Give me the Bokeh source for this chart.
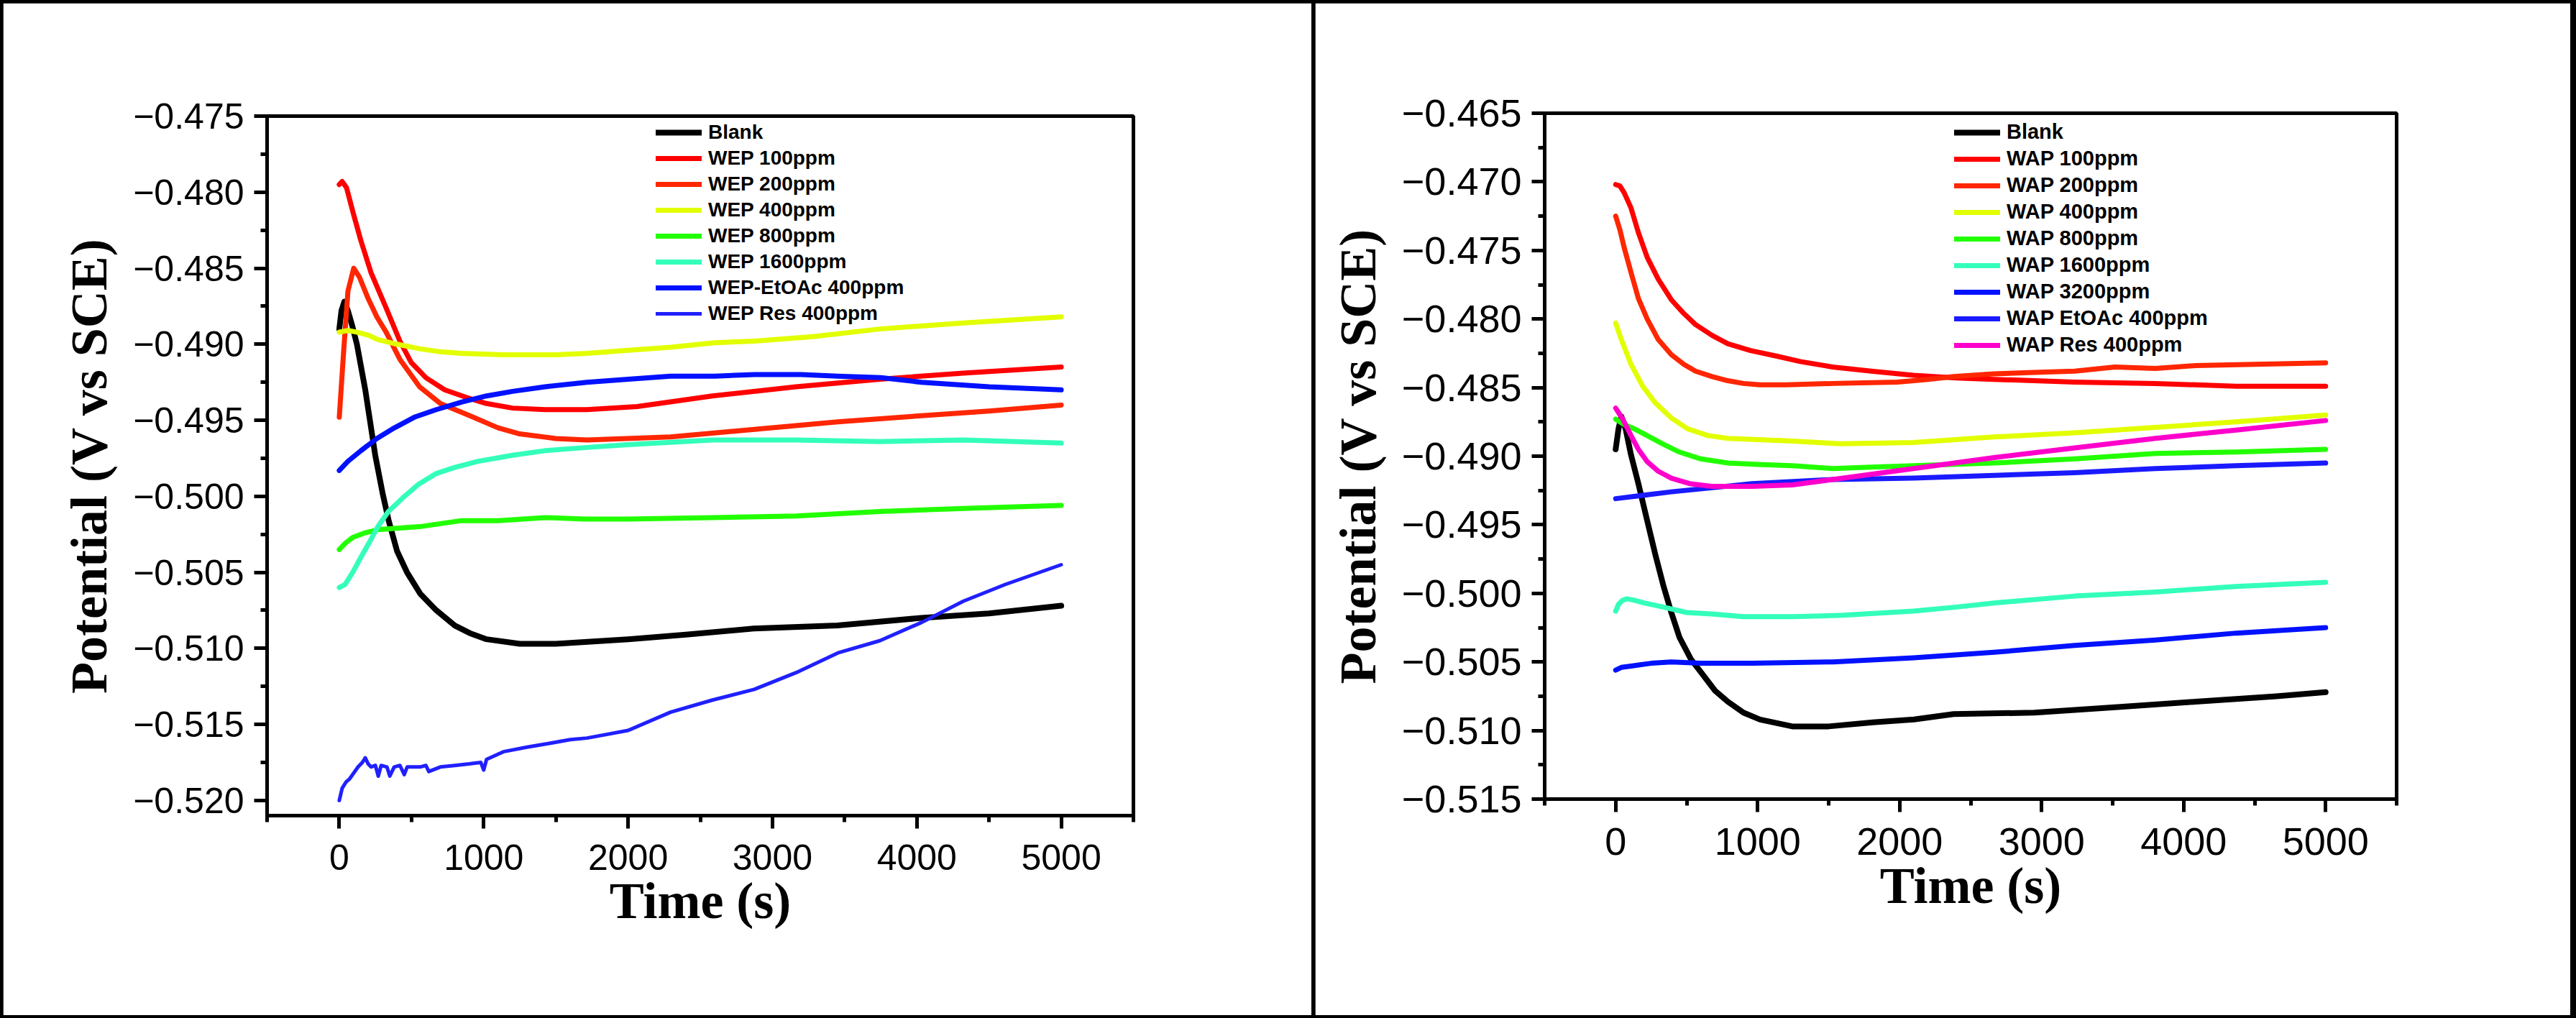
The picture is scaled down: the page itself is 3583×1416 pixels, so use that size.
from bokeh.plotting import figure
from bokeh.models import FixedTicker, CustomJSTickFormatter, Legend, LegendItem, Range1d
from bokeh.embed import file_html
from bokeh.resources import INLINE

# ---------------- tick labels ----------------
time_ticks = [0, 1000, 2000, 3000, 4000, 5000]
time_minor = [-500, 500, 1500, 2500, 3500, 4500, 5500]
wep_y_ticks = [-0.475, -0.480, -0.485, -0.490, -0.495, -0.500, -0.505, -0.510, -0.515, -0.520]
wap_y_ticks = [-0.465, -0.470, -0.475, -0.480, -0.485, -0.490, -0.495, -0.500, -0.505, -0.510, -0.515]

# ---------------- left panel (WEP) data ----------------
wep_blank_t = [0, 15, 35, 60, 90, 122, 180, 249, 300, 342, 400, 469, 560, 672, 800, 904, 1020, 1250, 1500, 2000, 2400, 2870, 3450, 4030, 4500, 5000]
wep_blank_v = [-0.4890, -0.4878, -0.4872, -0.4878, -0.4888, -0.4900, -0.4930, -0.4973, -0.4998, -0.5016, -0.5036, -0.5050, -0.5064, -0.5075, -0.5085, -0.5090, -0.5094, -0.5097, -0.5097, -0.5094, -0.5091, -0.5087, -0.5085, -0.5080, -0.5077, -0.5072]

wep_100_t = [0, 20, 50, 100, 150, 220, 324, 420, 498, 600, 730, 880, 1020, 1200, 1425, 1715, 2063, 2584, 3163, 3743, 4322, 5000]
wep_100_v = [-0.4795, -0.4793, -0.4797, -0.4815, -0.4832, -0.4853, -0.4876, -0.4898, -0.4912, -0.4922, -0.4930, -0.4935, -0.4939, -0.4942, -0.4943, -0.4943, -0.4941, -0.4934, -0.4928, -0.4923, -0.4919, -0.4915]

wep_200_t = [0, 30, 60, 100, 140, 200, 260, 324, 420, 556, 700, 904, 1100, 1250, 1500, 1715, 2294, 2874, 3453, 4032, 4500, 5000]
wep_200_v = [-0.4948, -0.4905, -0.4865, -0.4850, -0.4856, -0.4870, -0.4882, -0.4892, -0.4910, -0.4928, -0.4939, -0.4947, -0.4955, -0.4959, -0.4962, -0.4963, -0.4961, -0.4956, -0.4951, -0.4947, -0.4944, -0.4940]

wep_400_t = [0, 60, 120, 200, 267, 400, 556, 700, 846, 1136, 1500, 1715, 2000, 2294, 2600, 2874, 3280, 3743, 4322, 5000]
wep_400_v = [-0.4892, -0.4891, -0.4892, -0.4894, -0.4897, -0.4900, -0.4903, -0.4905, -0.4906, -0.4907, -0.4907, -0.4906, -0.4904, -0.4902, -0.4899, -0.4898, -0.4895, -0.4890, -0.4886, -0.4882]

wep_800_t = [0, 40, 93, 180, 267, 400, 556, 846, 1100, 1425, 1700, 2000, 2584, 3163, 3743, 4322, 5000]
wep_800_v = [-0.5035, -0.5031, -0.5027, -0.5024, -0.5022, -0.5021, -0.5020, -0.5016, -0.5016, -0.5014, -0.5015, -0.5015, -0.5014, -0.5013, -0.5010, -0.5008, -0.5006]

wep_1600_t = [0, 40, 93, 150, 210, 267, 340, 440, 550, 672, 800, 962, 1200, 1425, 1700, 2000, 2584, 3163, 3743, 4322, 5000]
wep_1600_v = [-0.5060, -0.5058, -0.5050, -0.5040, -0.5030, -0.5020, -0.5010, -0.5001, -0.4992, -0.4985, -0.4981, -0.4977, -0.4973, -0.4970, -0.4968, -0.4966, -0.4963, -0.4963, -0.4964, -0.4963, -0.4965]

wep_etoac_t = [0, 60, 150, 260, 382, 520, 672, 850, 1020, 1200, 1425, 1715, 2000, 2294, 2600, 2874, 3200, 3453, 3750, 4032, 4500, 5000]
wep_etoac_v = [-0.4983, -0.4977, -0.4970, -0.4962, -0.4955, -0.4948, -0.4943, -0.4938, -0.4934, -0.4931, -0.4928, -0.4925, -0.4923, -0.4921, -0.4921, -0.4920, -0.4920, -0.4921, -0.4922, -0.4925, -0.4928, -0.4930]

wep_res_t = [0, 20, 46, 70, 100, 130, 160, 180, 200, 220, 250, 270, 290, 330, 350, 380, 420, 450, 470, 520, 560, 600, 620, 700, 800, 900, 980, 1000, 1020, 1136, 1300, 1425, 1600, 1715, 2000, 2294, 2584, 2874, 3163, 3453, 3743, 4032, 4322, 4612, 5000]
wep_res_v = [-0.5200, -0.5192, -0.5188, -0.5186, -0.5182, -0.5178, -0.5175, -0.5172, -0.5176, -0.5178, -0.5177, -0.5184, -0.5177, -0.5178, -0.5184, -0.5178, -0.5177, -0.5183, -0.5178, -0.5178, -0.5178, -0.5177, -0.5181, -0.5178, -0.5177, -0.5176, -0.5175, -0.5180, -0.5173, -0.5168, -0.5165, -0.5163, -0.5160, -0.5159, -0.5154, -0.5142, -0.5134, -0.5127, -0.5116, -0.5103, -0.5095, -0.5083, -0.5069, -0.5058, -0.5045]

# ---------------- right panel (WAP) data ----------------
wap_blank_t = [0, 20, 40, 70, 108, 160, 222, 280, 335, 392, 449, 530, 619, 700, 790, 900, 1017, 1244, 1500, 1812, 2100, 2380, 2949, 3517, 4085, 4653, 5000]
wap_blank_v = [-0.4895, -0.4880, -0.4871, -0.4880, -0.4899, -0.4920, -0.4947, -0.4972, -0.4994, -0.5014, -0.5032, -0.5048, -0.5060, -0.5071, -0.5079, -0.5087, -0.5092, -0.5097, -0.5097, -0.5094, -0.5092, -0.5088, -0.5087, -0.5083, -0.5079, -0.5075, -0.5072]

wap_100_t = [0, 30, 60, 108, 160, 222, 300, 392, 480, 562, 680, 790, 950, 1131, 1300, 1528, 1800, 2097, 2400, 2665, 3233, 3801, 4369, 5000]
wap_100_v = [-0.4702, -0.4703, -0.4708, -0.4719, -0.4737, -0.4755, -0.4771, -0.4786, -0.4796, -0.4804, -0.4812, -0.4818, -0.4823, -0.4827, -0.4831, -0.4835, -0.4838, -0.4841, -0.4843, -0.4844, -0.4846, -0.4847, -0.4849, -0.4849]

wap_200_t = [0, 30, 60, 108, 160, 222, 300, 392, 480, 562, 680, 790, 900, 1017, 1200, 1528, 1983, 2200, 2380, 2665, 2949, 3233, 3517, 3801, 4085, 4500, 5000]
wap_200_v = [-0.4725, -0.4735, -0.4748, -0.4766, -0.4785, -0.4800, -0.4815, -0.4826, -0.4833, -0.4838, -0.4842, -0.4845, -0.4847, -0.4848, -0.4848, -0.4847, -0.4846, -0.4844, -0.4842, -0.4840, -0.4839, -0.4838, -0.4835, -0.4836, -0.4834, -0.4833, -0.4832]

wap_400_t = [0, 40, 108, 190, 278, 390, 506, 650, 790, 1000, 1244, 1585, 2097, 2665, 3233, 3801, 4369, 5000]
wap_400_v = [-0.4803, -0.4815, -0.4833, -0.4849, -0.4861, -0.4872, -0.4880, -0.4885, -0.4887, -0.4888, -0.4889, -0.4891, -0.4890, -0.4886, -0.4883, -0.4879, -0.4875, -0.4870]

wap_800_t = [0, 60, 130, 222, 330, 449, 600, 790, 1000, 1244, 1528, 1800, 2097, 2665, 3233, 3801, 4369, 5000]
wap_800_v = [-0.4873, -0.4877, -0.4880, -0.4885, -0.4891, -0.4897, -0.4902, -0.4905, -0.4906, -0.4907, -0.4909, -0.4908, -0.4907, -0.4905, -0.4902, -0.4898, -0.4897, -0.4895]

wap_1600_t = [0, 20, 50, 80, 130, 200, 335, 500, 676, 900, 1244, 1600, 2097, 2400, 2665, 3233, 3801, 4369, 5000]
wap_1600_v = [-0.5013, -0.5008, -0.5005, -0.5004, -0.5005, -0.5007, -0.5010, -0.5014, -0.5015, -0.5017, -0.5017, -0.5016, -0.5013, -0.5010, -0.5007, -0.5002, -0.4999, -0.4995, -0.4992]

wap_3200_t = [0, 40, 108, 250, 392, 600, 960, 1528, 2097, 2665, 3233, 3801, 4369, 5000]
wap_3200_v = [-0.5056, -0.5054, -0.5053, -0.5051, -0.5050, -0.5051, -0.5051, -0.5050, -0.5047, -0.5043, -0.5038, -0.5034, -0.5029, -0.5025]

wap_etoac_t = [0, 392, 960, 1528, 2097, 2665, 3233, 3801, 4369, 5000]
wap_etoac_v = [-0.4931, -0.4926, -0.4920, -0.4917, -0.4916, -0.4914, -0.4912, -0.4909, -0.4907, -0.4905]

wap_res_t = [0, 50, 108, 160, 222, 300, 392, 520, 676, 800, 960, 1244, 1528, 2097, 2665, 3233, 3801, 4369, 5000]
wap_res_v = [-0.4865, -0.4873, -0.4885, -0.4895, -0.4904, -0.4911, -0.4916, -0.4920, -0.4922, -0.4922, -0.4922, -0.4921, -0.4917, -0.4909, -0.4901, -0.4894, -0.4887, -0.4881, -0.4874]

wep_labels = ["Blank", "WEP 100ppm", "WEP 200ppm", "WEP 400ppm", "WEP 800ppm", "WEP 1600ppm", "WEP-EtOAc 400ppm", "WEP Res 400ppm"]
wap_labels = ["Blank", "WAP 100ppm", "WAP 200ppm", "WAP 400ppm", "WAP 800ppm", "WAP 1600ppm", "WAP 3200ppm", "WAP EtOAc 400ppm", "WAP Res 400ppm"]

wep_series = [
    (wep_blank_t, wep_blank_v, "#000000", 8),
    (wep_100_t, wep_100_v, "#FF0000", 7),
    (wep_200_t, wep_200_v, "#FF2600", 7),
    (wep_400_t, wep_400_v, "#E2FF00", 7),
    (wep_800_t, wep_800_v, "#22FF00", 7),
    (wep_1600_t, wep_1600_v, "#33FFBB", 7),
    (wep_etoac_t, wep_etoac_v, "#0011FF", 7),
    (wep_res_t, wep_res_v, "#2020FF", 5),
]
wap_series = [
    (wap_blank_t, wap_blank_v, "#000000", 8),
    (wap_100_t, wap_100_v, "#FF0000", 7),
    (wap_200_t, wap_200_v, "#FF2600", 7),
    (wap_400_t, wap_400_v, "#E2FF00", 7),
    (wap_800_t, wap_800_v, "#22FF00", 7),
    (wap_1600_t, wap_1600_v, "#33FFBB", 7),
    (wap_3200_t, wap_3200_v, "#0011FF", 7),
    (wap_etoac_t, wap_etoac_v, "#1A1AFF", 7),
    (wap_res_t, wap_res_v, "#FF00CC", 7),
]


def midpoints(vals):
    return [(a + b) / 2 for a, b in zip(vals, vals[1:])]


def make_panel(series, labels, y_lo, y_hi, y_ticks, w, h, borders, tick_fs, leg_loc, leg_fs, leg_spacing):
    p = figure(width=w, height=h, output_backend="svg", toolbar_location=None,
               x_range=Range1d(-500, 5500), y_range=Range1d(y_lo, y_hi),
               min_border_left=borders[0], min_border_right=borders[1],
               min_border_top=borders[2], min_border_bottom=borders[3],
               background_fill_color="white", border_fill_color="white")
    p.xgrid.visible = False
    p.ygrid.visible = False
    p.outline_line_color = "black"
    p.outline_line_width = 5

    rs = []
    for (t, v, c, lw) in series:
        rs.append(p.line(t, v, line_color=c, line_width=lw, line_join="round", line_cap="round"))

    p.xaxis.ticker = FixedTicker(ticks=time_ticks, minor_ticks=time_minor)
    p.yaxis.ticker = FixedTicker(ticks=y_ticks, minor_ticks=midpoints(y_ticks))
    p.yaxis.formatter = CustomJSTickFormatter(
        code="return (tick < 0 ? '\\u2212' : '') + Math.abs(tick).toFixed(3);")

    for ax in (p.xaxis[0], p.yaxis[0]):
        ax.axis_line_width = 5
        ax.axis_line_color = "black"
        ax.major_tick_line_width = 5
        ax.minor_tick_line_width = 5
        ax.major_tick_out = 18
        ax.major_tick_in = 0
        ax.minor_tick_out = 9
        ax.minor_tick_in = 0
        ax.major_label_text_font = "Liberation Sans"
        ax.major_label_text_font_size = f"{tick_fs}px"
        ax.major_label_text_color = "black"
        ax.axis_label_text_font = "Liberation Serif"
        ax.axis_label_text_font_style = "bold"
        ax.axis_label_text_font_size = "72px"
        ax.axis_label_text_color = "black"
    p.xaxis.axis_label = "Time (s)"
    p.yaxis.axis_label = "Potential (V vs SCE)"
    p.xaxis.major_label_standoff = 22
    p.yaxis.major_label_standoff = 14
    p.xaxis.axis_label_standoff = 0
    p.yaxis.axis_label_standoff = 18

    items = [LegendItem(label=lab, renderers=[r]) for lab, r in zip(labels, rs)]
    leg = Legend(items=items, location=leg_loc, padding=0, margin=0, spacing=leg_spacing,
                 glyph_width=64, glyph_height=30, label_height=30, label_standoff=9,
                 label_text_font="Liberation Sans", label_text_font_style="bold",
                 label_text_font_size=f"{leg_fs}px", label_text_color="black",
                 border_line_color=None, background_fill_alpha=0)
    p.add_layout(leg)
    return p


p1 = make_panel(wep_series, wep_labels, -0.521, -0.475, wep_y_ticks, 1823, 1408,
                (367, 248, 157, 278), 50, (541, 682), 28, 4)
p2 = make_panel(wap_series, wap_labels, -0.515, -0.465, wap_y_ticks, 1748, 1408,
                (319, 242, 153, 301), 54, (570, 615), 29, 4)

# page frame: black outer border and divider between the two panels
page_css = """
<style>
html, body { margin: 0 !important; padding: 0 !important; }
body { display: flex !important; flex-direction: row; align-items: flex-start;
       gap: 4px; padding: 4px !important; background: #000000;
       width: 3583px; height: 1416px; box-sizing: border-box !important;
       overflow: hidden; }
</style>
"""

html = file_html([p1, p2], INLINE, title="Open circuit potential")
html = html.replace("</head>", page_css + "</head>", 1)
with open("out.html", "w", encoding="utf-8") as f:
    f.write(html)
